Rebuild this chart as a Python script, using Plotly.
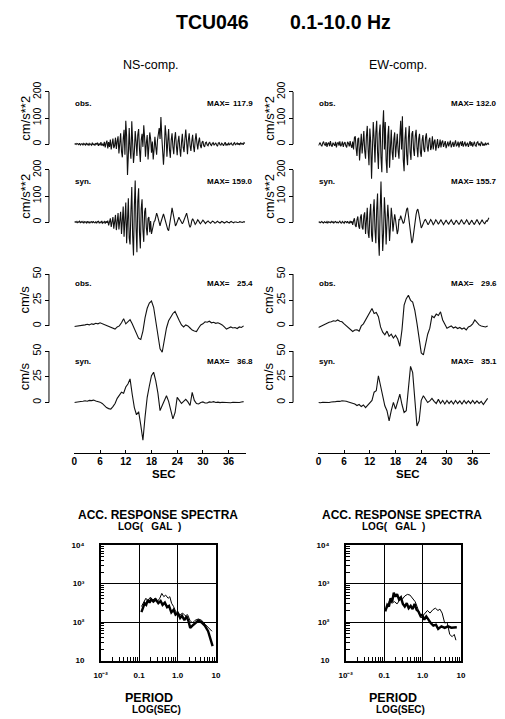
import numpy as np
import plotly.graph_objects as go

W, H = 505, 719
FONT = "Liberation Sans, Arial, Helvetica, sans-serif"

# ---------------- data ----------------
DT_ACC = 0.2   # s, sample spacing of the acceleration traces
DT_VEL = 0.5   # s, sample spacing of the velocity traces

ns_obs_acc = [0, 2, -1, 3, 1, -2, 4, -3, 1, 2, -4, 3, 0, -3, 5, -2, 2, -5, 3, 1,
              -4, 6, -3, 2, -5, 4, -1, 6, -6, 3, -4, 8, -5, 2, -7,
              9, -12, 4, 14, -16, 8, -10, 18, -20, 6, 22, -15, -5, 25, -18,
              12, 30, -35, 10, 42, -28, -50, 20, 55, -40,
              90, 30, -117.9, -40, 62, -20, -55, 88, 20, -72,
              -30, 50, 10, -45, 35, 58, -20, -68, 15, 40,
              -10, 72, 25, -48, 5, 35, -58, -15, 45, 20,
              -32, 10, -58, -20, 28, -10, -40, 15, 35, 62,
              20, 104, 30, -42, -78, -20, 72, 35, -48, 10,
              58, -20, -52, 15, 42, -10, -38, 20, 46, -5,
              -42, 10, 32, -15, -48, 5, 40, -12, -30, 20,
              56, 10, -38, 15, 42, -5, -26, 10, 36, -8,
              -30, 15, 42, 5, -20, 10, 25, -5, -15, 8,
              12, -6, -10, 5, 8, -3, -6, 4, 7, -2,
              -5, 3, 6, -4, 2, 5, -3, -8, 4, 6, -2, -3, 4, 1, -6, 3, 8, -5, 2, -4,
              6, -3, 1, 5, -2, -4, 3, 6, -3, 2, 5, -2, 4, -3, 6, 1, 3, -2, 6, 3]

ns_syn_acc = [0, 2, -1, 3, -2, 1, 4, -3, 2, -1, 3, -4, 2, 1, -3, 4, -2, 3, -4, 1,
              2, -3, 4, -1, -2, 3, -4, 2, 4, -3, 1, -2, 5, -4, 2, 3, -5, 4, -2, 6,
              -12, 8, 15, -18, 5, 20, -25, 12, 28, -30, 8, 35, -28, 15, 40,
              -45, 20, 60, -55, 10, 75, -80, 30, 92, -60,
              -85, 40, 135, -50, -127, 60, 159.0, -20, -115, 80,
              130, -40, -100, 50, 88, -30, -75, 40, 55, -20,
              -50, 15, 20, -38, 5, -45, -30, -10, 2, 6,
              20, 35, 25, 10, -5, -14, 0, 15, 25, 32,
              20, 5, -10, -20, -28, -32, -15, 5, 30, 55,
              40, 20, 0, -14, -8, 0, 10, 19, 12, 5,
              -3, -6, 0, 10, 20, 32, 35, 20, 0, -10,
              -19, -12, 5, 13, 8, -2, -8, -4, 5, 9,
              5, -4, -6, -2, 4, 8, 4, -2, -5, -1,
              3, 5, 1, -3, -4, 0, 4, 3, -1, -3, -2, 2, 4, 1, -2, -3, 0, 3, 2, -1,
              -3, -1, 2, 3, 0, -2, -2, 1, 3, 1, -2, -2, 1, 2, 1, -1, -2, 0, 2, 1,
              -1, -1, 1, 2, 0]

ew_obs_acc = [-5, 2, 6, -3, -8, 4, 10, -2, -4, 8, -10, 3, 5, -7, 12, -4, -9, 6, 2, -6,
              9, -12, 4, 7, -5, 11, -8, -2, 10, -10, 3, 8, -6, -12, 9, 4, -8, 12, -5, -14,
              10, -20, 25, 30, -15, -45, 20, 25, -62, -10, 40, -35, 15, 50, -25,
              -55, 30, 70, -20, -80, 60, 10, -132.0, -40, 85,
              20, -70, 45, 90, -30, -95, 40, 75, -50, -107,
              60, 130, -20, 85, -60, -110, 30, 70, -90, -20,
              55, -30, -60, 20, 45, -50, 10, 40, -25, -55,
              30, 90, -20, 107, -60, -103, 20, 65, -40, -80,
              25, 70, -30, -60, 40, 50, -20, -45, 30, 55,
              -10, -50, 20, 40, -30, -48, 15, 35, -20, -30,
              25, 42, -10, -28, 15, 25, -22, -10, 30, -20,
              10, 18, -25, 5, 20, -15, -5, 18, -12, 8,
              14, -10, 5, 12, -15, 0, 10, -8, 6, 14,
              -12, 4, 9, -10, 2, 15, -8, -3, 10, -12, 5, 8, -6, 12, -9, 3, 10, -8, -2, 6,
              -10, 4, 12, -6, 8, -9, 2, 10, -5, -8, 6, 9, -4, 3, -7, 8, 5, -6, 2, -5,
              6, -3, 1, 4, -2]

ew_syn_acc = [0, 1, -2, 2, 3, -1, -3, 2, 1, -2, 3, -3, 2, 0, -2, 3, -1, 2, -3, 1,
              3, -2, 1, -3, 2, 4, -2, -3, 3, 1, -4, 3, 2, -3, 4, -2, -4, 5, -3, 4,
              -10, 6, 15, -12, -18, 10, 22, -15, -25, 18, 30, -20, -28, 25, 38,
              -45, 15, 55, -40, -60, 30, 70, -50, -75, 40,
              88, -30, -80, 50, 110, -60, -128, 40, 155.7, 20,
              -110, -40, 95, 30, -85, 0, 67, 10, -72, -20,
              55, 20, -35, 0, 30, 10, -20, -45, -30, 10,
              10, 25, 15, 5, -5, 0, 20, 35, 50, 55,
              30, 0, -30, -60, -80, -70, -40, -10, 10, 30,
              45, 50, 35, 15, -10, -22, -15, -5, 0, 8,
              10, 4, -6, -10, -4, 4, 10, 6, -3, -9,
              -5, 4, 9, 5, -5, -8, -2, 7, 10, 3,
              -4, -9, -4, 5, 8, 2, -6, -8, -1, 7,
              9, 3, -3, -10, -4, 6, 8, 2, -5, -9, -3, 7, 10, 3, -4, -8, -2, 5, 9, 4,
              -6, -10, -3, 6, 8, 1, -5, -9, -2, 7, 10, 4, -4, -8, -3, 5, 9, 3, -6, -7,
              0, 6, 4, 10, 17]

ns_obs_vel = [-0.5, -0.3, 0, 0.5, 0.2, 1, 1.6, 1, 2, 1.5, 2.5, 2, 3, 2.2, 1.5, 0.5,
              -0.5, -1.5, -2, -3, -1, 0, 3, 7, 2, 4.5, 6, 2, -3, -8,
              -12, -13, -5, 8, 17, 22, 24, 18, 5, -8,
              -22, -25.4, -14, -2, 5, 9, 12, 14, 9, 5,
              1, -1, 1, 0, -2, -4, -5, -5.5, -2, 1,
              2, 4, 3.5, 4.5, 3, 3.5, 2.5, 3, 2, 1,
              -1, -3, -2, -1, -2, -1.5, -2.5, -1, -1.5, 0]

ns_syn_vel = [0, 0.5, 0.3, 1, 1.2, 1.6, 1.2, 2, 1.8, 2.3, 1.5, 1, 0.3, -1, -3.5, -5,
              -6, -6.5, -4, -1, 4, 7, 10, 9, 15, 18, 22.9, 8, -5, -12,
              -9, -22, -36.8, -14, 5, 16, 26, 29.4, 21, 9,
              -8, -3, 2, 6.5, 1, -8, -16, -10, 5, 2,
              -1, 1, 3, 0.5, -3, 9.8, 2, -1, -1.5, 0,
              0.5, -0.5, -0.5, 0.5, 0.2, 0.8, 0, 0.3, -0.2, 0.2,
              0, 0.5, 0, -0.3, 0.2, 0, -0.5, 0, 0.5, 0.8]

ew_obs_vel = [-1.6, -0.5, 1, 1.5, 3, 3.5, 4, 5, 4.5, 5.7, 4.5, 4, 2, 0, -1.3, -3,
              -5.4, -4, -3.8, -5, 0, 2, 5.7, 9, 13.6, 16.8, 12, 13, 8.9, -1,
              -6, -8.5, -5, -10, -8, -11.7, -9, -12.6, -19.6, -3.8,
              20, 26.3, 29.6, 24.7, 23, 15, 2.5, -13.3, -26, -28,
              -16.4, -8, -2.2, 9.5, 8, 11.4, 10, 13.6, 5.7, 1,
              -2.2, -1, 0, -2, -1, -2.5, -1.5, -3, -2, -3.8,
              -1, 0, 2, 5.7, 3, 1, 0, -0.5, -1, 0]

ew_syn_vel = [0, -0.3, 0.2, 0, 0.5, 0, 0.5, 1, 0.8, 1.2, 1, 1.6, 1.5, 1.2, 0.5, 0,
              -1, -1.6, -3, -2, -4, -2.5, -5, -3, -1, 2, 10, 11.4, 26, 16,
              6.5, -3.3, -8, -18, -8, 0, -6.5, 2, 8, -2,
              -9.8, -8, 13, 35.1, 29, 5, -22.9, -18, 2, 6.5,
              3, 0, 1.5, 4, 1, -1, 3, -1, 2, -1.5,
              2, -1, 1.5, -1.5, 2, -1, 1.5, -1.5, 2, -1,
              1.5, -1, 2, -1, 1.5, -1, 1, -2, 1, 4]

max_labels = {"ns_obs_acc": "117.9", "ns_syn_acc": "159.0",
              "ew_obs_acc": "132.0", "ew_syn_acc": "155.7",
              "ns_obs_vel": "25.4", "ns_syn_vel": "36.8",
              "ew_obs_vel": "29.6", "ew_syn_vel": "35.1"}

time_ticks = [0, 6, 12, 18, 24, 30, 36]
acc_ticks = [0, 100, 200]
vel_ticks = [0, 25, 50]

# response spectra (period s, acceleration gal)
ns_thick_T = [0.115, 0.126, 0.139, 0.153, 0.169, 0.187, 0.206, 0.235, 0.27, 0.316, 0.363,
              0.408, 0.468, 0.536, 0.6, 0.69, 0.79, 0.89, 1.02, 1.17, 1.31, 1.51, 1.72,
              1.94, 2.14, 2.45, 2.87, 3.49, 4.24, 5.15, 6.26, 7.18, 8.2]
ns_thick_A = [182, 231, 310, 281, 377, 322, 392, 342, 392, 310, 356,
              281, 322, 245, 265, 179, 209, 156, 172, 128, 147, 112, 141,
              105, 71, 81, 95, 110, 99, 81, 58, 39, 24]
ns_thin_T = [0.115, 0.131, 0.15, 0.169, 0.194, 0.228, 0.26, 0.298, 0.345, 0.39, 0.44,
             0.49, 0.57, 0.63, 0.70, 0.79, 0.89, 1.02, 1.17, 1.36, 1.59, 1.83, 2.1,
             2.45, 2.87, 3.49, 4.24, 5.36, 6.52, 7.9]
ns_thin_A = [255, 342, 417, 362, 441, 377, 417, 342, 417, 558, 459,
             506, 417, 459, 310, 255, 190, 172, 156, 172, 147, 156, 112,
             95, 112, 121, 112, 86, 71, 58]
ew_thick_T = [0.107, 0.121, 0.133, 0.147, 0.162, 0.178, 0.197, 0.217, 0.243, 0.273, 0.307,
              0.345, 0.388, 0.435, 0.49, 0.55, 0.62, 0.70, 0.78, 0.88, 0.98, 1.11, 1.25,
              1.42, 1.63, 1.91, 2.23, 2.55, 3.1, 3.77, 4.6, 5.6, 6.8, 7.8]
ew_thick_A = [190, 281, 255, 416, 342, 581, 459, 537, 392, 441, 298,
              255, 310, 231, 265, 218, 298, 209, 190, 147, 156, 116, 141,
              112, 95, 81, 86, 67, 78, 71, 78, 72, 75, 74]
ew_thin_T = [0.112, 0.125, 0.14, 0.158, 0.185, 0.217, 0.254, 0.295, 0.345, 0.403, 0.47,
             0.55, 0.64, 0.72, 0.81, 0.91, 1.02, 1.15, 1.34, 1.57, 1.84, 2.15, 2.52,
             2.83, 3.24, 3.77, 4.36, 5.1, 5.9, 6.7, 7.4]
ew_thin_A = [209, 265, 392, 310, 342, 298, 377, 392, 478, 526, 506,
             417, 342, 255, 172, 128, 147, 172, 201, 172, 209, 231, 201,
             218, 172, 95, 99, 48, 42, 48, 34]

spec_xticks = [0.01, 0.1, 1, 10]
spec_xtext = ["10\u207b\u00b2", "0.1", "1.0", "10"]
spec_yticks = [10, 100, 1000, 10000]
spec_ytext = ["10", "10\u00b2", "10\u00b3", "10\u2074"]
minor_vals_x = [m * d for d in (0.01, 0.1, 1) for m in range(2, 10)]
minor_vals_y = [m * d for d in (10, 100, 1000) for m in range(2, 10)]

# ---------------- layout helpers (pixel -> paper) ----------------
def fx(x):
    return x / W

def fy(y):
    return 1 - y / H

PX_PER_S = 4.389
X0 = 69            # pixel of t = 0 in left column
COL_DX = [0, 250]  # column offsets

# panels: key, dt, pixel of zero, pixel of ref value, ref value, domain top/bottom, ticks, unit, label row
panels = [
    ("obs_acc", DT_ACC, 142.0, 89.0, 200, 78, 182, acc_ticks, "cm/s**2", 101),
    ("syn_acc", DT_ACC, 221.0, 168.0, 200, 160, 262, acc_ticks, "cm/s**2", 180),
    ("obs_vel", DT_VEL, 326.0, 273.5, 50, 266, 364, vel_ticks, "cm/s", 283),
    ("syn_vel", DT_VEL, 403.5, 351.5, 50, 345, 448, vel_ticks, "cm/s", 362),
]
series = {
    ("ns", "obs_acc"): ns_obs_acc, ("ns", "syn_acc"): ns_syn_acc,
    ("ns", "obs_vel"): ns_obs_vel, ("ns", "syn_vel"): ns_syn_vel,
    ("ew", "obs_acc"): ew_obs_acc, ("ew", "syn_acc"): ew_syn_acc,
    ("ew", "obs_vel"): ew_obs_vel, ("ew", "syn_vel"): ew_syn_vel,
}

fig = go.Figure()
layout = {}
shapes = []
annotations = []

def txt(x, y, text, size, bold=False, xanchor="center", angle=0):
    annotations.append(dict(x=fx(x), y=fy(y), xref="paper", yref="paper", text=text,
                            showarrow=False, xanchor=xanchor, yanchor="middle",
                            textangle=angle, borderpad=0,
                            font=dict(family=FONT, size=size, color="black",
                                      weight="bold" if bold else "normal")))

yi = 1
for ci, comp in enumerate(["ns", "ew"]):
    dx = COL_DX[ci]
    xname = "x" if ci == 0 else "x2"
    xkey = "xaxis" if ci == 0 else "xaxis2"
    layout[xkey] = dict(domain=[fx(X0 + dx), fx(X0 + dx + 40 * PX_PER_S)], range=[0, 40],
                        anchor="free", position=fy(455), showline=True, linecolor="black",
                        linewidth=1, ticks="inside", ticklen=3, tickcolor="black",
                        tickvals=time_ticks, showgrid=False, zeroline=False,
                        ticklabelstandoff=-1,
                        tickfont=dict(family=FONT, size=10, color="black", weight="bold"))
    for (pkey, dt, p0, pref, vref, dtop, dbot, ticks, unit, ly) in panels:
        vals = series[(comp, pkey)]
        t = np.arange(len(vals)) * dt
        scale = vref / (p0 - pref)
        rng = [(p0 - dbot) * scale, (p0 - dtop) * scale]
        yname = "y" if yi == 1 else f"y{yi}"
        ykey = "yaxis" if yi == 1 else f"yaxis{yi}"
        layout[ykey] = dict(domain=[fy(dbot), fy(dtop)], range=rng, anchor="free",
                            position=fx(43 + dx), showline=False, showgrid=False,
                            zeroline=False, ticks="outside", ticklen=4, tickcolor="black",
                            tickvals=ticks, tickangle=-90,
                            tickfont=dict(family=FONT, size=10.5, color="black"))
        fig.add_trace(go.Scatter(x=t, y=vals, mode="lines", xaxis=xname, yaxis=yname,
                                 line=dict(color="#111111", width=1.1), showlegend=False,
                                 hoverinfo="skip"))
        shapes.append(dict(type="line", xref="paper", yref=yname, x0=fx(43 + dx),
                           x1=fx(43 + dx), y0=0, y1=ticks[-1],
                           line=dict(color="black", width=1)))
        txt(18 + dx, (p0 + pref) / 2, unit, 13, angle=-90)
        txt(69 + dx, ly, "obs." if pkey.startswith("obs") else "syn.", 8, bold=True,
            xanchor="left")
        txt(204 + dx, ly, "MAX=", 8, bold=True, xanchor="left")
        txt(253 + dx, ly, max_labels[f"{comp}_{pkey}"], 8, bold=True, xanchor="right")
        yi += 1
    txt(161 + dx, 475.5, "SEC", 11.5, bold=True)

# ---------------- response spectra ----------------
spec = [
    ("x3", "y9", 96, ns_thick_T, ns_thick_A, ns_thin_T, ns_thin_A),
    ("x4", "y10", 347, ew_thick_T, ew_thick_A, ew_thin_T, ew_thin_A),
]
for (xn, yn, left, tkT, tkA, tnT, tnA) in spec:
    xk = "xaxis" + xn[1:]
    yk = "yaxis" + yn[1:]
    common = dict(type="log", showline=True, mirror=True, linecolor="black", linewidth=1.5,
                  showgrid=True, gridcolor="black", gridwidth=1, zeroline=False,
                  ticks="", tickfont=dict(family=FONT, size=8, color="black", weight="bold"))
    layout[xk] = dict(common, domain=[fx(left), fx(left + 118)], range=[-2, 1], anchor=yn,
                      tickvals=spec_xticks, ticktext=spec_xtext, ticklabelstandoff=6,
                      minor=dict(tickvals=minor_vals_x, ticks="inside", ticklen=4,
                                 tickcolor="black", showgrid=False))
    layout[yk] = dict(common, domain=[fy(665), fy(548)], range=[1, 4], anchor=xn,
                      tickvals=spec_yticks, ticktext=spec_ytext, ticklabelstandoff=13,
                      minor=dict(tickvals=minor_vals_y, ticks="inside", ticklen=4,
                                 tickcolor="black", showgrid=False))
    fig.add_trace(go.Scatter(x=tnT, y=tnA, mode="lines", xaxis=xn, yaxis=yn,
                             line=dict(color="black", width=1), showlegend=False,
                             hoverinfo="skip"))
    fig.add_trace(go.Scatter(x=tkT, y=tkA, mode="lines", xaxis=xn, yaxis=yn,
                             line=dict(color="black", width=2.4), showlegend=False,
                             hoverinfo="skip"))

for dx in COL_DX:
    txt(155 + dx, 517, "ACC. RESPONSE SPECTRA", 12, bold=True)
    txt(146 + dx, 529, "LOG(\u00a0\u00a0\u00a0GAL\u00a0\u00a0)", 10, bold=True)
    txt(145 + dx, 703, "PERIOD", 12.5, bold=True)
    txt(153 + dx, 714, "LOG(SEC)", 10, bold=True)

# ---------------- titles ----------------
txt(211, 18, "TCU046", 19.5, bold=True)
txt(342, 18, "0.1-10.0 Hz", 19.5, bold=True)
txt(148, 62, "NS-comp.", 12.5)
txt(401, 62, "EW-comp.", 12.5)

fig.update_layout(width=W, height=H, margin=dict(l=0, r=0, t=0, b=0),
                  paper_bgcolor="white", plot_bgcolor="rgba(0,0,0,0)",
                  shapes=shapes, annotations=annotations, showlegend=False,
                  font=dict(family=FONT, color="black"), **layout)

fig.write_html("out.html", config={"displayModeBar": False},
               post_script="document.body.style.margin='0px';")
